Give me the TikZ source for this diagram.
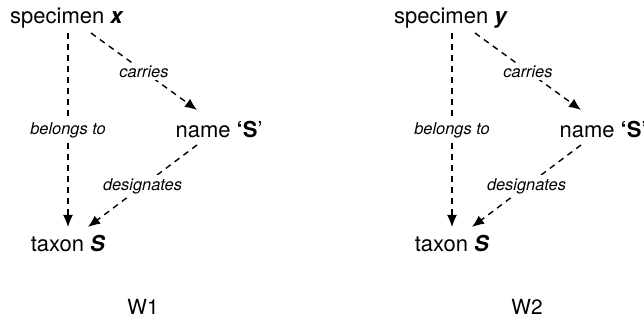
\documentclass[tikz,border=0pt]{standalone}
\usepackage{fontspec}
\setmainfont{TeX Gyre Heros}
\usetikzlibrary{arrows.meta,calc}
\begin{document}
\begin{tikzpicture}[x=0.5pt,y=-0.5pt,
  term/.style={font=\fontsize{11}{13}\selectfont, inner sep=0pt},
  rel/.style={font=\fontsize{8.2}{9.8}\selectfont\itshape, fill=white, inner sep=1.5pt},
  link/.style={line width=0.7pt, dash pattern=on 3pt off 2.5pt,
    -{Latex[length=6pt,width=5pt]}},
  world/.style={font=\fontsize{10.4}{12}\selectfont, inner sep=0pt}]
\useasboundingbox (0,0) rectangle (644,320);

% World W1
\node[term] (spx) at (67,18)  {specimen \textbf{\textit{x}}};
\node[term] (nmx) at (219,130) {name \textbf{‘S}’};
\node[term] (tx)  at (68,244) {taxon \textbf{\textit{S}}};
\draw[link] ($(spx)+(1,15)$) -- node[rel] {belongs to} ($(tx)+(0,-17)$);
\draw[link] ($(spx)+(24,15)$) -- node[rel] {carries} ($(nmx)+(-22,-20)$);
\draw[link] ($(nmx)+(-22,15)$) -- node[rel] {designates} ($(tx)+(20,-17)$);
\node[world] (w1) at (143,307) {W1};

% World W2
\node[term] (spy) at (451,18)  {specimen \textbf{\textit{y}}};
\node[term] (nmy) at (603,130) {name \textbf{‘S}’};
\node[term] (ty)  at (452,244) {taxon \textbf{\textit{S}}};
\draw[link] ($(spy)+(1,15)$) -- node[rel] {belongs to} ($(ty)+(0,-17)$);
\draw[link] ($(spy)+(24,15)$) -- node[rel] {carries} ($(nmy)+(-22,-20)$);
\draw[link] ($(nmy)+(-22,15)$) -- node[rel] {designates} ($(ty)+(20,-17)$);
\node[world] (w2) at (527,307) {W2};
\end{tikzpicture}
\end{document}
